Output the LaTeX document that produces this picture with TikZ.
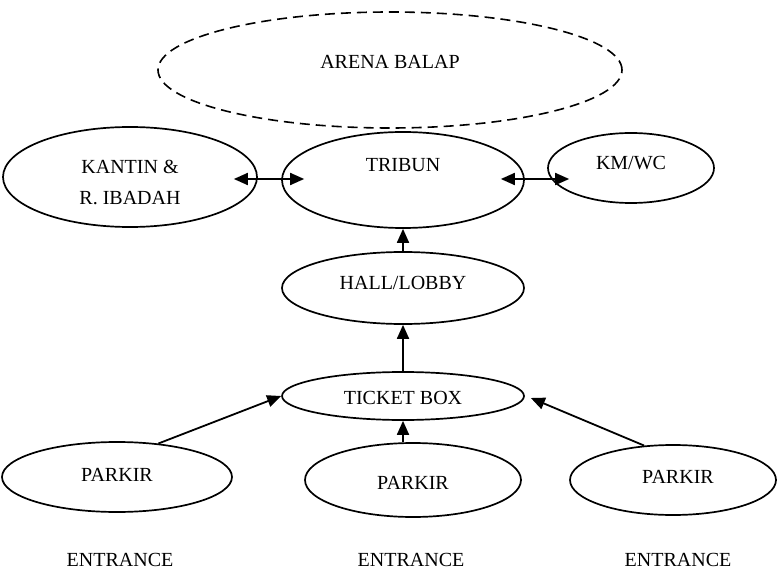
\documentclass[tikz,border=0pt]{standalone}
\usepackage{fontspec}
\setmainfont{Liberation Serif}
\usetikzlibrary{shapes.geometric,arrows.meta,calc}

\tikzset{
  oval/.style={ellipse, draw=black, line width=1.7pt, inner sep=0pt},
  arena/.style={oval, line width=1.6pt, dash pattern=on 10pt off 6pt},
  lbl/.style={inner sep=0pt, font=\fontsize{20}{31}\selectfont, align=center, text depth=0pt},
  flow/.style={line width=1.8pt, -{Triangle[length=14pt,width=12pt]}},
  both/.style={line width=1.8pt, {Triangle[length=14pt,width=12pt]}-{Triangle[length=14pt,width=12pt]}}
}

\begin{document}
\begin{tikzpicture}[x=1pt,y=-1pt]
  \useasboundingbox (0,0) rectangle (777,575);
  \fill[white] (0,0) rectangle (777,575);

  % areas
  \node[arena, minimum width=464pt, minimum height=116pt] (arena) at (390,70) {};
  \node[oval, minimum width=242pt, minimum height=96pt] (tribun) at (403,180) {};
  \node[oval, minimum width=254pt, minimum height=100pt] (kantin) at (130,177) {};
  \node[oval, minimum width=166pt, minimum height=70pt] (kmwc) at (631,168) {};
  \node[oval, minimum width=242pt, minimum height=72pt] (hall) at (403,288) {};
  \node[oval, minimum width=242pt, minimum height=48pt] (ticket) at (403,396) {};
  \node[oval, minimum width=230pt, minimum height=70pt] (parkirL) at (117,477) {};
  \node[oval, minimum width=216pt, minimum height=74pt] (parkirM) at (413,480) {};
  \node[oval, minimum width=206pt, minimum height=70pt] (parkirR) at (673,480) {};

  % labels
  \node[lbl] (arenaT) at (390,62) {ARENA BALAP};
  \node[lbl] (tribunT) at (403,165) {TRIBUN};
  \node[lbl] (kantinT) at (130,182) {KANTIN \&\\R. IBADAH};
  \node[lbl] (kmwcT) at (631,163) {KM/WC};
  \node[lbl] (hallT) at (403,283) {HALL/LOBBY};
  \node[lbl] (ticketT) at (403,398) {TICKET BOX};
  \node[lbl] (parkirLT) at (117,475) {PARKIR};
  \node[lbl] (parkirMT) at (413,483) {PARKIR};
  \node[lbl] (parkirRT) at (678,477) {PARKIR};
  \node[lbl] (entL) at (120,560) {ENTRANCE};
  \node[lbl] (entM) at (411,560) {ENTRANCE};
  \node[lbl] (entR) at (678,560) {ENTRANCE};

  % connectors
  \draw[both] ([shift={(-24,2)}]kantin.east) -- ([shift={(23,-1)}]tribun.west);
  \draw[both] ([shift={(-24,-1)}]tribun.east) -- ([shift={(22,11)}]kmwc.west);
  \draw[flow] (hall.north) -- (tribun.south);
  \draw[flow] (ticket.north) -- (hall.south);
  \draw[flow] (ticket.south |- parkirM.north) -- (ticket.south);
  \draw[flow] (parkirL.39) -- (ticket.west);
  \draw[flow] (parkirR.130) -- ([shift={(6,2)}]ticket.east);
\end{tikzpicture}
\end{document}
